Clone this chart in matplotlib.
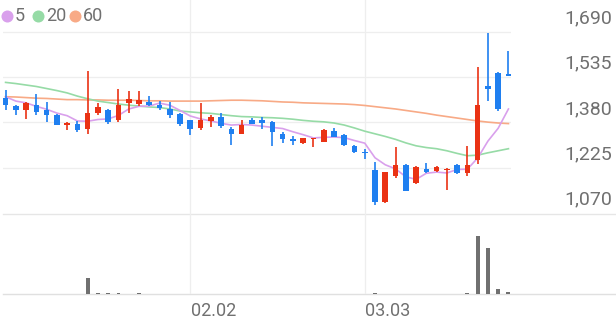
import numpy as np
import matplotlib.pyplot as plt

plt.rcParams["font.family"] = ["Roboto", "DejaVu Sans"]

# daily candles (oldest -> newest)
opens = [1464, 1435, 1424, 1439, 1421, 1406, 1372, 1375, 1356, 1413,
         1424, 1390, 1447, 1444, 1450, 1439, 1427, 1410, 1388, 1360,
         1384, 1399, 1358, 1342, 1388, 1387, 1381, 1339, 1324, 1308,
         1324, 1314, 1350, 1337, 1299, 1280, 1216, 1106, 1195, 1235,
         1171, 1221, 1214, 1216, 1233, 1206, 1251, 1506, 1549, 1546]
highs = [1492, 1438, 1449, 1476, 1451, 1408, 1383, 1386, 1555, 1445,
         1427, 1495, 1487, 1489, 1470, 1452, 1449, 1413, 1390, 1447,
         1404, 1411, 1365, 1387, 1394, 1398, 1384, 1347, 1333, 1326,
         1326, 1358, 1362, 1339, 1302, 1288, 1245, 1211, 1297, 1237,
         1231, 1240, 1231, 1223, 1236, 1299, 1570, 1685, 1551, 1623]
lows = [1422, 1404, 1393, 1406, 1383, 1370, 1354, 1347, 1339, 1405,
        1376, 1383, 1413, 1435, 1435, 1424, 1395, 1367, 1338, 1354,
        1364, 1362, 1302, 1342, 1375, 1358, 1299, 1311, 1302, 1305,
        1297, 1313, 1330, 1299, 1277, 1256, 1097, 1103, 1191, 1145,
        1169, 1208, 1211, 1148, 1203, 1195, 1239, 1452, 1418, 1538]
closes = [1438, 1422, 1445, 1416, 1404, 1372, 1379, 1353, 1413, 1432,
          1383, 1441, 1461, 1458, 1438, 1431, 1407, 1373, 1359, 1388,
          1399, 1367, 1342, 1371, 1375, 1379, 1347, 1322, 1315, 1326,
          1326, 1354, 1330, 1302, 1280, 1277, 1106, 1209, 1234, 1146,
          1229, 1212, 1228, 1220, 1206, 1233, 1439, 1495, 1427, 1538]
volumes = [4000, 3000, 4000, 4000, 3000, 4000, 4000, 5000, 157000, 12000,
           7000, 10000, 4000, 7000, 4000, 3000, 3000, 4000, 3000, 4000,
           3000, 3000, 4000, 3000, 3000, 4000, 3000, 3000, 4000, 3000,
           3000, 4000, 3000, 3000, 4000, 3000, 8000, 4000, 3000, 3000,
           4000, 3000, 3000, 4000, 3000, 7000, 580000, 463000, 47000, 23000]

ma5 = [1468, 1453, 1447, 1435, 1425, 1412, 1403, 1385, 1384, 1390,
       1392, 1404, 1426, 1435, 1436, 1446, 1439, 1421, 1402, 1392,
       1385, 1377, 1371, 1373, 1371, 1367, 1363, 1359, 1348, 1338,
       1327, 1329, 1330, 1328, 1318, 1309, 1259, 1235, 1221, 1194,
       1185, 1206, 1210, 1207, 1219, 1220, 1258, 1316, 1360, 1426]
ma20 = [1517, 1513, 1508, 1503, 1496, 1489, 1481, 1470, 1461, 1453,
        1448, 1443, 1439, 1436, 1433, 1431, 1426, 1419, 1416, 1413,
        1411, 1407, 1403, 1400, 1399, 1397, 1396, 1394, 1391, 1387,
        1384, 1382, 1378, 1371, 1361, 1350, 1341, 1332, 1322, 1310,
        1300, 1294, 1290, 1283, 1274, 1266, 1268, 1276, 1283, 1290]
ma60 = [1468, 1467, 1465, 1463, 1462, 1460, 1458, 1458, 1457, 1457,
        1456, 1456, 1456, 1455, 1454, 1454, 1453, 1453, 1453, 1453,
        1454, 1455, 1456, 1456, 1455, 1454, 1452, 1450, 1449, 1447,
        1446, 1445, 1444, 1443, 1441, 1438, 1434, 1430, 1426, 1421,
        1416, 1411, 1405, 1400, 1395, 1390, 1385, 1381, 1378, 1376]

price_ticks = [1690, 1535, 1380, 1225, 1070]
date_ticks = {18: "02.02", 35: "03.03"}

RED = "#ea3214"
BLUE = "#1f7ff0"
C5, C20, C60 = "#d9a0ec", "#96dba6", "#f8aa86"
GRID = "#eeeeee"
TXT = "#707070"

W, H = 616, 321
fig = plt.figure(figsize=(W / 100, H / 100), dpi=100)

# overlay in pixel coords for separators / legend
ov = fig.add_axes([0, 0, 1, 1])
ov.set_xlim(0, W)
ov.set_ylim(H, 0)
ov.axis("off")

ax = fig.add_axes([3 / W, 108 / H, 508 / W, 213 / H], facecolor="none")
axv = fig.add_axes([3 / W, 27 / H, 508 / W, 81 / H], facecolor="none")

x = np.arange(len(closes))
o = np.array(opens); c = np.array(closes)
colors = [RED if cc >= oo else BLUE for oo, cc in zip(o, c)]

for yv in price_ticks[:-1]:
    ax.axhline(yv, color=GRID, lw=0.9, zorder=0)
for i in date_ticks:
    ax.axvline(i, color=GRID, lw=0.9, zorder=0)
    axv.axvline(i, color=GRID, lw=0.9, zorder=0)

ax.plot(x, ma60, color=C60, lw=1.2, zorder=1)
ax.plot(x, ma20, color=C20, lw=1.2, zorder=1)
ax.plot(x, ma5, color=C5, lw=1.2, zorder=1)

ax.vlines(x, lows, highs, colors=colors, lw=1.2, zorder=2)
body_h = np.maximum(np.abs(c - o), 3)
ax.bar(x, body_h, bottom=np.minimum(o, c), width=0.55, color=colors, zorder=3)

ax.set_xlim(-0.25, 49.25)
ax.set_ylim(1070, 1799)
axv.set_xlim(-0.25, 49.25)
axv.set_ylim(0, 810000)
axv.bar(x, volumes, width=0.38, color="#707070", zorder=2)

for a in (ax, axv):
    a.set_xticks([]); a.set_yticks([])
    for s in a.spines.values():
        s.set_visible(False)

# panel separators spanning full width
ov.plot([3, W], [213.5, 213.5], color="#e6e6e6", lw=1.0)
ov.plot([3, W], [294, 294], color="#e0e0e0", lw=1.0)

for v in price_ticks:
    ax.annotate(f"{v:,}", xy=(612 / W, v), xycoords=(fig.transFigure, ax.transData),
                xytext=(0, 6), textcoords="offset points", ha="right", va="baseline",
                fontsize=14, color=TXT)
for i, lbl in date_ticks.items():
    axv.annotate(lbl, xy=(i, 0), xycoords=(axv.transData, axv.transAxes),
                 xytext=(0.5, -6), textcoords="offset points", ha="left", va="top",
                 fontsize=13, color=TXT)

# legend
for cx, col, lbl, tx in [(6.5, C5, "5", 15), (37.5, C20, "20", 46), (74.5, C60, "60", 83)]:
    ov.scatter([cx], [15.7], s=75, color=col, linewidths=0)
    ov.text(tx, 16, lbl, fontsize=13, color=TXT, ha="left", va="center")

fig.savefig("out.png", dpi=100)
